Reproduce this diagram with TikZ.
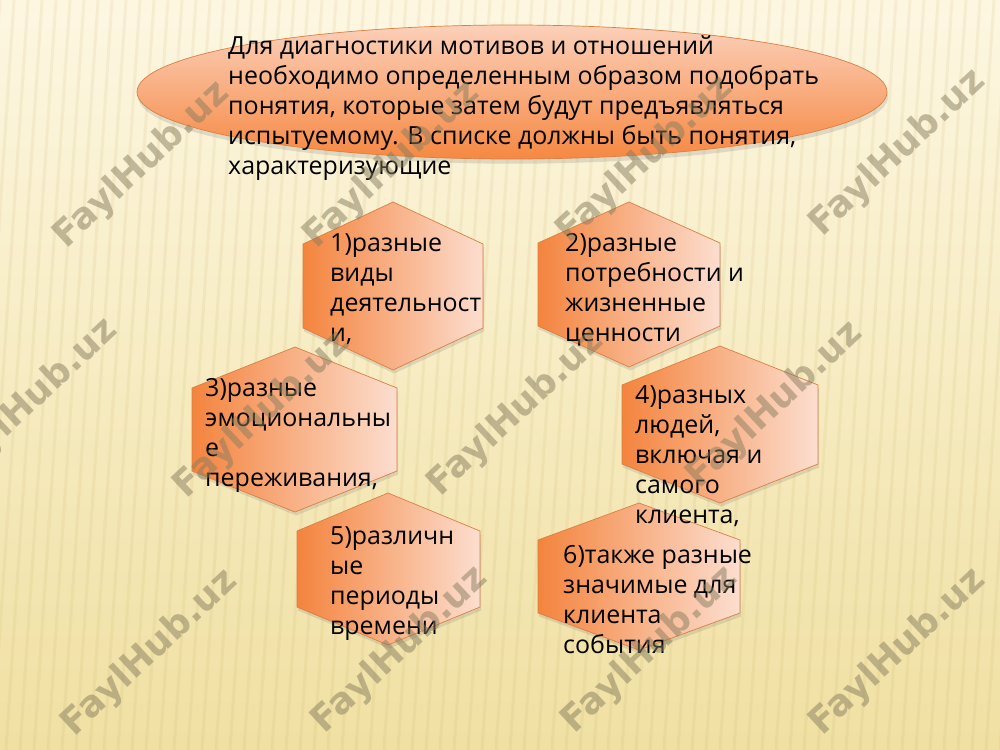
\documentclass[tikz,border=0pt]{standalone}
\usepackage{fontspec}
\setmainfont{Open Sans}
\newfontfamily\wmfont{DejaVu Sans}
\usetikzlibrary{shadows}

\definecolor{bgtop}{RGB}{253,247,226}
\definecolor{bgmid}{RGB}{248,236,193}
\definecolor{bgbot}{RGB}{240,224,162}
\definecolor{stripe}{RGB}{200,175,105}
\definecolor{hexleft}{RGB}{244,132,62}
\definecolor{hexright}{RGB}{252,222,207}
\definecolor{hexedge}{RGB}{218,128,66}
\definecolor{elltop}{RGB}{251,208,185}
\definecolor{ellbot}{RGB}{246,136,66}
\definecolor{wmgray}{RGB}{135,125,95}

\tikzset{
  hexbox/.style={draw=hexedge, line width=0.6pt, left color=hexleft, right color=hexright,
    drop shadow={opacity=0.22, shadow xshift=1pt, shadow yshift=-3pt}},
  topoval/.style={draw=hexedge, line width=0.6pt, top color=elltop, bottom color=ellbot,
    drop shadow={opacity=0.22, shadow xshift=1pt, shadow yshift=-4pt}},
  hextext/.style={anchor=north west, inner sep=0pt, align=left,
    font=\fontsize{21.3}{25.6}\selectfont},
  stripeline/.style={draw=stripe, line width=0.9mm, opacity=0.13},
  wmark/.style={rotate=43, text=wmgray, text opacity=0.5,
    font=\wmfont\bfseries\fontsize{31}{32}\selectfont}
}

\begin{document}
\begin{tikzpicture}[x=0.3mm, y=-0.3mm]

\useasboundingbox (0,0) rectangle (1000,750);
\clip (0,0) rectangle (1000,750);

% Background
\shade[top color=bgtop, middle color=bgmid, bottom color=bgbot] (0,0) rectangle (1000,750);
\foreach \sx in {0,14,...,1070}
  \draw[stripeline] (\sx,0) -- (\sx-50,750);

%
% Oval on top
%
\path[topoval] (512,92) ellipse [x radius=112.5mm, y radius=20.1mm];

\path
(228,35) node[hextext] (intro) {Для диагностики мотивов и отношений\\
необходимо определенным образом подобрать\\
понятия, которые затем будут предъявляться\\
испытуемому. В списке должны быть понятия,\\
характеризующие};

%
% Hexagons
%

% 1) left top
\path[hexbox] (393,202) -- (483,244) -- (483,328) -- (393,370) -- (303,328) -- (303,244) -- cycle;

% 2) right top
\path[hexbox] (629,202) -- (720,243) -- (720,326) -- (629,367) -- (538,326) -- (538,243) -- cycle;

% 3) left middle
\path[hexbox] (295,347) -- (397,388) -- (397,471) -- (295,512) -- (192,471) -- (192,388) -- cycle;

% 4) right middle
\path[hexbox] (720,346) -- (818,385) -- (818,464) -- (720,503) -- (622,464) -- (622,385) -- cycle;

% 5) left bottom
\path[hexbox] (388,493) -- (480,531) -- (480,607) -- (388,645) -- (297,607) -- (297,531) -- cycle;

% 6) right bottom
\path[hexbox] (639,503) -- (740,540) -- (740,613) -- (639,650) -- (538,613) -- (538,540) -- cycle;

%
% Texts of the hexagons
%
\path
(330,233) node[hextext] (kinds) {1)разные\\виды\\деятельност\\и,};

\path
(565,233) node[hextext] (needs) {2)разные\\потребности и\\жизненные\\ценности};

\path
(205,378) node[hextext] (feelings) {3)разные\\эмоциональны\\е\\переживания,};

\path
(635,385) node[hextext] (people) {4)разных\\людей,\\включая и\\самого\\клиента,};

\path
(330,526) node[hextext] (periods) {5)различн\\ые\\периоды\\времени};

\path
(563,545) node[hextext] (events) {6)также разные\\значимые для\\клиента\\события};

% Watermarks
\foreach \wx/\wy [count=\i] in {142/165, 392/165, 645/160, 898/153,
                                30/402, 262/415, 516/413, 775/405,
                                150/653, 400/650, 650/650, 898/652}
  \path (\wx,\wy) node[wmark] (wm\i) {FaylHub.uz};

\end{tikzpicture}
\end{document}
